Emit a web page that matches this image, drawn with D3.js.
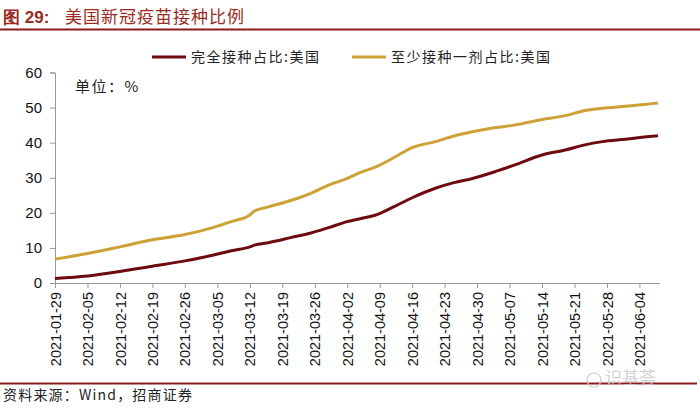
<!DOCTYPE html>
<html><head><meta charset="utf-8">
<script src="https://cdn.jsdelivr.net/npm/d3@7"></script>
<style>body{margin:0;background:#fff}svg{display:block}</style>
</head><body>
<svg id="c" width="700" height="409"></svg>
<script>
const title = "美国新冠疫苗接种比例";
const seriesNames = ["完全接种占比:美国", "至少接种一剂占比:美国"];
const dates = ["2021-01-29","2021-02-05","2021-02-12","2021-02-19","2021-02-26","2021-03-04","2021-03-08","2021-03-12","2021-03-13","2021-03-16","2021-03-21","2021-03-25","2021-03-29","2021-04-02","2021-04-05","2021-04-08","2021-04-12","2021-04-16","2021-04-21","2021-04-25","2021-04-29","2021-05-04","2021-05-08","2021-05-14","2021-05-19","2021-05-23","2021-05-27","2021-06-01","2021-06-05","2021-06-08"];
const fullyVaccinated = [1.3,2.0,3.3,4.8,6.3,7.9,9.2,10.3,10.8,11.5,13.0,14.2,15.8,17.5,18.4,19.3,21.7,24.3,27.0,28.6,29.8,31.8,33.6,36.5,37.9,39.3,40.3,41.0,41.6,42.0];
const atLeastOneDose = [6.8,8.4,10.3,12.3,13.8,15.8,17.5,19.4,20.5,21.7,23.6,25.5,27.9,29.8,31.6,33.0,35.7,38.6,40.3,41.9,43.1,44.3,45.0,46.6,47.7,49.1,49.8,50.4,50.9,51.3];
const tickDates = ["2021-01-29","2021-02-05","2021-02-12","2021-02-19","2021-02-26","2021-03-05","2021-03-12","2021-03-19","2021-03-26","2021-04-02","2021-04-09","2021-04-16","2021-04-23","2021-04-30","2021-05-07","2021-05-14","2021-05-21","2021-05-28","2021-06-04"];
const yTicks = [0,10,20,30,40,50,60];
const colors = ["#6E0B10", "#CDA136"];

const parse = d3.utcParse("%Y-%m-%d");
const svg = d3.select("#c");
const cjk = "'Noto Sans CJK SC', sans-serif";
const latin = "'Liberation Sans', Arial, sans-serif";

const x = d3.scaleUtc().domain([parse("2021-01-29"), parse("2021-06-08")]).range([55, 658]);
const y = d3.scaleLinear().domain([0, 60]).range([283, 72.5]);

// title
svg.append("text").attr("x", 3).attr("y", 23).attr("fill", "#9B2B22").attr("font-size", 17)
  .attr("font-family", latin).attr("font-weight", "bold").text("图 29:");
svg.append("text").attr("x", 65).attr("y", 23).attr("fill", "#9B2B22").attr("font-size", 17)
  .attr("font-family", cjk).attr("letter-spacing", 1).text(title);
svg.append("line").attr("x1", 0).attr("x2", 700).attr("y1", 29.5).attr("y2", 29.5).attr("stroke", "#8E1B1B").attr("stroke-width", 2);
svg.append("line").attr("x1", 0).attr("x2", 697).attr("y1", 383.5).attr("y2", 383.5).attr("stroke", "#8E1B1B").attr("stroke-width", 2);

// legend
const legX = [152, 352];
seriesNames.forEach((n, i) => {
  svg.append("line").attr("x1", legX[i]).attr("x2", legX[i] + 34).attr("y1", 57).attr("y2", 57)
    .attr("stroke", colors[i]).attr("stroke-width", 3);
  svg.append("text").attr("x", legX[i] + 39).attr("y", 62).attr("font-family", cjk).attr("font-size", 14)
    .attr("letter-spacing", 1.5).attr("fill", "#222").text(n);
});

// unit
svg.append("text").attr("x", 75).attr("y", 92).attr("font-family", cjk).attr("font-size", 15)
  .attr("letter-spacing", 1.5).attr("fill", "#222").text("单位：%");

// axes
const yAxis = svg.append("g").attr("transform", "translate(55,0)")
  .call(d3.axisLeft(y).tickValues(yTicks).tickSize(5).tickPadding(8));
yAxis.select(".domain").attr("stroke", "#999");
yAxis.selectAll(".tick line").attr("stroke", "#999");
yAxis.selectAll("text").attr("font-family", latin).attr("font-size", 15).attr("fill", "#111");

const xAxis = svg.append("g").attr("transform", "translate(0,283)")
  .call(d3.axisBottom(x).tickValues(tickDates.map(parse)).tickFormat(d3.utcFormat("%Y-%m-%d")).tickSize(5).tickSizeOuter(0));
xAxis.select(".domain").attr("stroke", "#999").attr("d", "M55,0.5H660");
xAxis.selectAll(".tick line").attr("stroke", "#999");
xAxis.selectAll("text").attr("font-family", latin).attr("font-size", 14.5).attr("fill", "#111")
  .attr("transform", "rotate(-90)").attr("text-anchor", "end").attr("x", -9).attr("y", 0).attr("dy", "0.35em");

// lines
const line = d3.line().x(d => x(d[0])).y(d => y(d[1])).curve(d3.curveMonotoneX);
[fullyVaccinated, atLeastOneDose].forEach((vals, i) => {
  svg.append("path").datum(dates.map((d, j) => [parse(d), vals[j]]))
    .attr("d", line).attr("fill", "none").attr("stroke", colors[i]).attr("stroke-width", 3);
});

// source
svg.append("text").attr("x", 3).attr("y", 400).attr("font-family", cjk).attr("font-size", 14)
  .attr("letter-spacing", 1.2).attr("fill", "#222").text("资料来源：Wind，招商证券");

// watermark
svg.append("text").attr("x", 605).attr("y", 384).attr("font-family", cjk).attr("font-size", 17).attr("fill", "#c8c8c8").attr("opacity", 0.8).text("识基荟");
svg.append("circle").attr("cx", 594).attr("cy", 380).attr("r", 7).attr("fill", "none").attr("stroke", "#c8c8c8").attr("stroke-width", 1.2);
</script>
</body></html>
